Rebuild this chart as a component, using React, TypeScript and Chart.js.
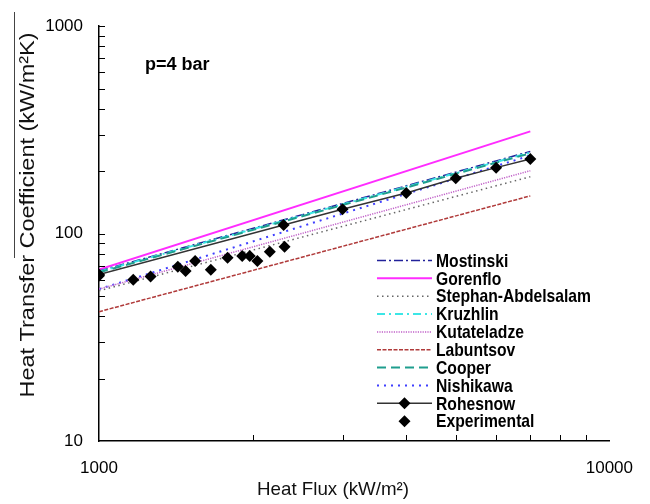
import React, { useEffect, useRef } from 'react';
import { Chart, registerables } from 'chart.js';

Chart.register(...registerables);

// ---- data ----
const correlationFlux = [1000, 7000];
const mostinski = [66, 249];
const gorenflo = [67, 311];
const stephanAbdelsalam = [53, 188];
const kruzhlin = [65.5, 246];
const kutateladze = [54, 201];
const labuntsov = [42, 152];
const cooper = [65, 244];
const nishikawa = [54, 238];

const rohsenowFlux = [1000, 2300, 3000, 4000, 5000, 6000, 7000];
const rohsenow = [63.5, 110, 131, 157, 185, 208, 229];

const expFlux = [1000, 1167, 1262, 1427, 1478, 1543, 1656, 1786, 1908, 1974, 2043, 2161, 2310];
const expHtc = [62.6, 59.9, 62.1, 69.3, 66.1, 73.8, 66.9, 76.5, 77.9, 77.9, 73.8, 81.7, 86.3];

const xTickLabels = [1000, 10000];
const yTickLabels = [10, 100, 1000];
const xMinorTicks = [2000, 3000, 4000, 5000, 6000, 7000, 8000, 9000];
const yMinorTicks = [20, 30, 40, 50, 60, 70, 80, 90, 100, 200, 300, 400, 500, 600, 700, 800, 900, 1000];

const xTitle = 'Heat Flux (kW/m\u00B2)';
const yTitle = 'Heat Transfer Coefficient (kW/m\u00B2K)';
const annotation = 'p=4 bar';

const FONT = '"Liberation Sans", Arial, sans-serif';

const pts = (xs: number[], ys: number[]) => xs.map((x, i) => ({ x, y: ys[i] }));

const overlayPlugin = {
  id: 'overlay',
  afterDraw(chart: any) {
    const ctx = chart.ctx as CanvasRenderingContext2D;
    const xs = chart.scales.x;
    const ys = chart.scales.y;
    const area = chart.chartArea;
    ctx.save();

    // inside ticks
    ctx.strokeStyle = '#000';
    ctx.lineWidth = 1;
    ctx.setLineDash([]);
    for (const v of yMinorTicks) {
      const py = Math.round(ys.getPixelForValue(v)) + 0.5;
      ctx.beginPath();
      ctx.moveTo(area.left, py);
      ctx.lineTo(area.left + 6, py);
      ctx.stroke();
    }
    for (const v of xMinorTicks) {
      const px = Math.round(xs.getPixelForValue(v)) + 0.5;
      ctx.beginPath();
      ctx.moveTo(px, area.bottom);
      ctx.lineTo(px, area.bottom - 6);
      ctx.stroke();
    }

    // stray vertical rule left of the y title
    ctx.strokeStyle = '#444';
    ctx.beginPath();
    ctx.moveTo(14.5, 12);
    ctx.lineTo(14.5, 258);
    ctx.stroke();

    // axis titles
    ctx.fillStyle = '#111';
    ctx.textBaseline = 'middle';
    ctx.textAlign = 'center';
    ctx.font = `20px ${FONT}`;
    {
      const w = ctx.measureText(yTitle).width;
      ctx.save();
      ctx.translate(28, 215);
      ctx.rotate(-Math.PI / 2);
      ctx.scale(365 / w, 1);
      ctx.fillText(yTitle, 0, 0);
      ctx.restore();
    }
    ctx.font = `19px ${FONT}`;
    {
      const w = ctx.measureText(xTitle).width;
      ctx.save();
      ctx.translate(333, 490);
      ctx.scale(152 / w, 1);
      ctx.fillText(xTitle, 0, 0);
      ctx.restore();
    }

    // annotation
    ctx.font = `bold 18px ${FONT}`;
    ctx.textAlign = 'left';
    ctx.fillStyle = '#000';
    ctx.fillText(annotation, 145, 65);

    // legend
    ctx.font = `bold 19px ${FONT}`;
    const refW = ctx.measureText('Stephan-Abdelsalam').width;
    const sx = 155 / refW;
    const datasets = chart.data.datasets;
    const x0 = 377, x1 = 432, tx = 436;
    datasets.forEach((ds: any, i: number) => {
      const y = 260.5 + i * 17.85;
      if (ds.showLine !== false) {
        ctx.strokeStyle = ds.borderColor;
        ctx.lineWidth = ds.borderWidth;
        ctx.setLineDash(ds.borderDash || []);
        ctx.beginPath();
        ctx.moveTo(x0, y);
        ctx.lineTo(x1, y);
        ctx.stroke();
        ctx.setLineDash([]);
      }
      if (ds.pointRadius > 0) {
        const r = ds.pointRadius;
        const cx = (x0 + x1) / 2;
        ctx.fillStyle = ds.pointBackgroundColor;
        ctx.beginPath();
        ctx.moveTo(cx, y - r);
        ctx.lineTo(cx + r, y);
        ctx.lineTo(cx, y + r);
        ctx.lineTo(cx - r, y);
        ctx.closePath();
        ctx.fill();
      }
      ctx.save();
      ctx.fillStyle = '#000';
      ctx.translate(tx, y + 1);
      ctx.scale(sx, 1);
      ctx.fillText(ds.label, 0, 0);
      ctx.restore();
    });

    ctx.restore();
  },
};

const lineDs = (label: string, ys: number[], color: string, dash: number[], width: number, order: number) => ({
  label,
  data: pts(correlationFlux, ys),
  borderColor: color,
  backgroundColor: color,
  borderDash: dash,
  borderWidth: width,
  pointRadius: 0,
  pointHoverRadius: 0,
  fill: false,
  tension: 0,
  order,
});

export default function App() {
  const canvasRef = useRef<HTMLCanvasElement | null>(null);

  useEffect(() => {
    const canvas = canvasRef.current;
    if (!canvas) return;
    const chart = new Chart(canvas, {
      type: 'line',
      data: {
        datasets: [
          lineDs('Mostinski', mostinski, '#22229a', [9, 3, 2, 3], 1.5, 4),
          lineDs('Gorenflo', gorenflo, '#ff2cff', [], 2, 5),
          lineDs('Stephan-Abdelsalam', stephanAbdelsalam, '#666666', [1.5, 3.5], 1.5, 6),
          lineDs('Kruzhlin', kruzhlin, '#3ce6e6', [8, 4, 2, 4], 2, 3),
          lineDs('Kutateladze', kutateladze, '#c060c8', [1.2, 1.2], 1.5, 7),
          lineDs('Labuntsov', labuntsov, '#b03a3a', [4, 1.5], 1.5, 8),
          lineDs('Cooper', cooper, '#1f9e8e', [9, 5], 2, 2),
          lineDs('Nishikawa', nishikawa, '#3f3fff', [2, 5], 2, 9),
          {
            label: 'Rohesnow',
            data: pts(rohsenowFlux, rohsenow),
            borderColor: '#333333',
            backgroundColor: '#000000',
            borderWidth: 1.5,
            borderDash: [],
            pointStyle: 'rectRot',
            pointRadius: 6,
            pointBackgroundColor: '#000000',
            pointBorderColor: '#000000',
            pointBorderWidth: 0,
            fill: false,
            tension: 0,
            order: 1,
          },
          {
            label: 'Experimental',
            data: pts(expFlux, expHtc),
            showLine: false,
            borderColor: '#000000',
            backgroundColor: '#000000',
            borderWidth: 0,
            pointStyle: 'rectRot',
            pointRadius: 6,
            pointBackgroundColor: '#000000',
            pointBorderColor: '#000000',
            pointBorderWidth: 0,
            order: 0,
          },
        ],
      },
      options: {
        animation: false,
        responsive: false,
        events: [],
        layout: { padding: { left: 0, top: 20, right: 35, bottom: 0 } },
        plugins: {
          legend: { display: false },
          tooltip: { enabled: false },
          title: { display: false },
        },
        scales: {
          x: {
            type: 'logarithmic',
            position: 'bottom',
            min: 1000,
            max: 10000,
            grid: { display: false, drawTicks: false },
            border: { display: true, color: '#000', width: 1.5 },
            ticks: {
              color: '#000',
              font: { family: FONT, size: 17 },
              padding: 17,
              autoSkip: false,
              maxRotation: 0,
              callback: (v: any) => String(v),
            },
            afterBuildTicks: (s: any) => {
              s.ticks = xTickLabels.map((v) => ({ value: v }));
            },
            afterFit: (s: any) => {
              s.height = 63;
            },
          },
          y: {
            type: 'logarithmic',
            position: 'left',
            min: 10,
            max: 1000,
            grid: { display: false, drawTicks: false },
            border: { display: true, color: '#000', width: 1.5 },
            ticks: {
              color: '#000',
              font: { family: FONT, size: 17 },
              padding: 16,
              autoSkip: false,
              callback: (v: any) => String(v),
            },
            afterBuildTicks: (s: any) => {
              s.ticks = yTickLabels.map((v) => ({ value: v }));
            },
            afterFit: (s: any) => {
              s.width = 99;
            },
          },
        },
      },
      plugins: [overlayPlugin],
    } as any);
    return () => chart.destroy();
  }, []);

  return (
    <div style={{ position: 'absolute', left: 0, top: 0, width: 650, height: 504, background: '#fff' }}>
      <canvas ref={canvasRef} width={650} height={504} style={{ display: 'block' }} />
    </div>
  );
}
